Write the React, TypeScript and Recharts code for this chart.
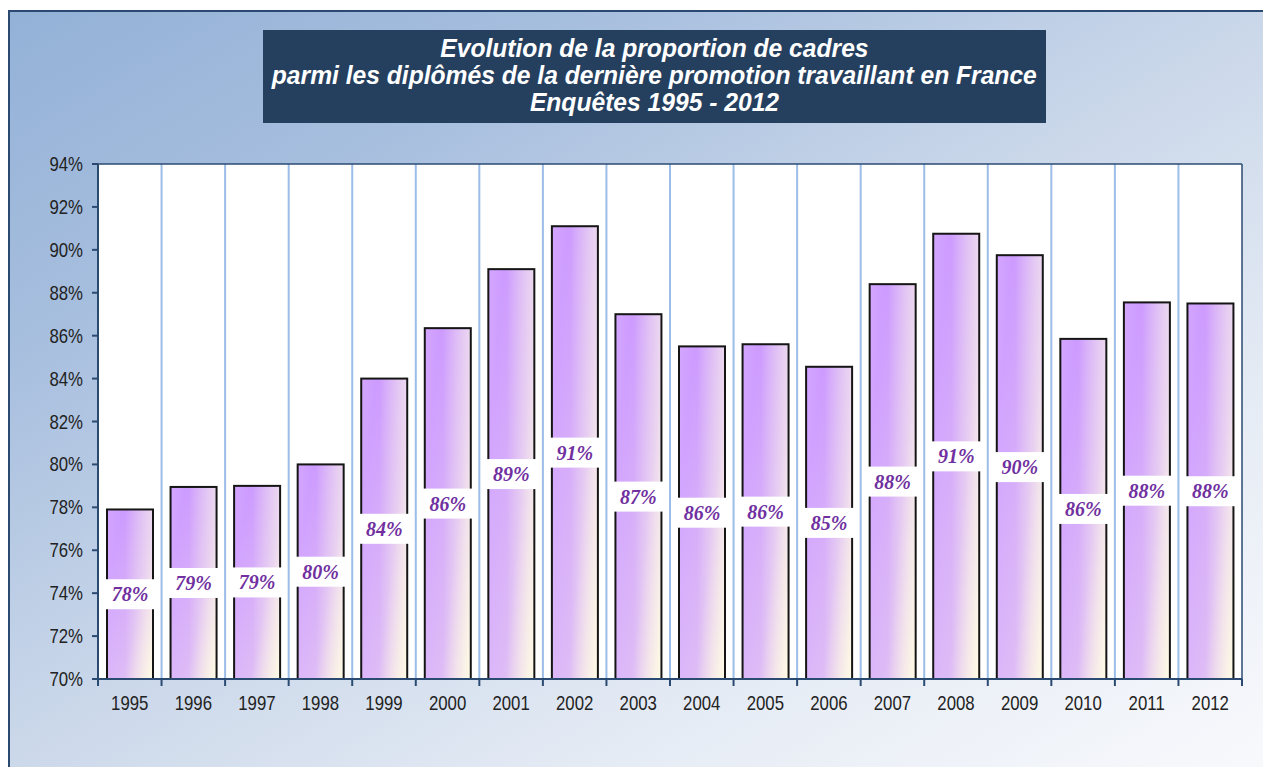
import { Bar, BarChart, CartesianGrid, LabelList, XAxis, YAxis } from "recharts";

const years = [
  "1995", "1996", "1997", "1998", "1999", "2000", "2001", "2002", "2003",
  "2004", "2005", "2006", "2007", "2008", "2009", "2010", "2011", "2012",
];
const shares = [
  77.9, 78.95, 79.0, 80.0, 84.0, 86.35, 89.1, 91.1, 87.0,
  85.5, 85.6, 84.55, 88.4, 90.75, 89.75, 85.85, 87.55, 87.5,
];
const yTicks = [70, 72, 74, 76, 78, 80, 82, 84, 86, 88, 90, 92, 94];
const titleLines = [
  "Evolution de la proportion de cadres",
  "parmi les diplômés de la dernière promotion travaillant en France",
  "Enquêtes 1995 - 2012",
];

const data = years.map((year, i) => ({ year, share: shares[i] }));

const CHART_W = 1253;
const CHART_H = 745;
const MARGIN = { top: 152, right: 21, left: 18, bottom: 38 };
const Y_W = 70;
const X_H = 40;
const PLOT_W = CHART_W - MARGIN.left - MARGIN.right - Y_W;
const CAT_W = PLOT_W / years.length;

const DARK = "#2b4a72";
const GRID = "#9bbde8";
const SANS = "'Liberation Sans', Arial, sans-serif";

function GradientBar(props: any) {
  const { x, y, width, height } = props;
  if (!height || height <= 0) return null;
  return (
    <g>
      <rect x={x} y={y} width={width} height={height} fill="url(#barBase)" />
      <rect x={x} y={y} width={width} height={height} fill="url(#barCream)" />
      <rect x={x} y={y} width={width} height={height} fill="none" stroke="#151515" strokeWidth={2} />
    </g>
  );
}

function ValueTag(props: any) {
  const x = Number(props.x);
  const y = Number(props.y);
  const width = Number(props.width);
  const height = Number(props.height);
  const cx = x + width / 2;
  const cy = y + height / 2;
  return (
    <g>
      <rect x={x - 3} y={cy - 15} width={width + 6} height={30} fill="#fff" />
      <text
        x={cx}
        y={cy + 7}
        textAnchor="middle"
        fontFamily="'Liberation Serif', 'Times New Roman', serif"
        fontStyle="italic"
        fontWeight="bold"
        fontSize={20}
        fill="#7030a0"
      >
        {Math.round(Number(props.value))}%
      </text>
    </g>
  );
}

function YearTick(props: any) {
  const { x, y, payload, index } = props;
  const left = x - CAT_W / 2;
  return (
    <g>
      <line x1={left} y1={y} x2={left} y2={y + 7} stroke={DARK} strokeWidth={2} />
      {index === years.length - 1 && (
        <line x1={x + CAT_W / 2} y1={y} x2={x + CAT_W / 2} y2={y + 7} stroke={DARK} strokeWidth={2} />
      )}
      <text
        transform={`translate(${x},${y + 31}) scale(0.84,1)`}
        textAnchor="middle"
        fontFamily={SANS}
        fontSize={20}
        fill="#222"
      >
        {payload.value}
      </text>
    </g>
  );
}

function ShareTick(props: any) {
  const { x, y, payload } = props;
  return (
    <text
      transform={`translate(${x},${y + 7}) scale(0.84,1)`}
      textAnchor="end"
      fontFamily={SANS}
      fontSize={20}
      fill="#222"
    >
      {payload.value}%
    </text>
  );
}

export default function App() {
  return (
    <div
      style={{
        position: "fixed",
        left: 8,
        top: 10,
        width: 1255,
        height: 757,
        overflow: "hidden",
        borderLeft: `2px solid ${DARK}`,
        borderTop: `2px solid ${DARK}`,
        background:
          "linear-gradient(150deg, #93b1d7 0%, #a9c0df 25%, #cbd8ea 50%, #e6ecf5 75%, #f8f9fc 100%)",
      }}
    >
      <div
        style={{
          position: "absolute",
          left: 253,
          top: 18,
          width: 783,
          height: 93,
          background: "#253f5f",
          color: "#fff",
          fontFamily: SANS,
          fontStyle: "italic",
          fontWeight: "bold",
          fontSize: 25,
          lineHeight: "27px",
          textAlign: "center",
          paddingTop: 5,
          boxSizing: "border-box",
        }}
      >
        {titleLines.map((line) => (
          <div key={line} style={{ whiteSpace: "nowrap" }}>
            <span style={{ display: "inline-block", transform: "scaleX(0.985)" }}>{line}</span>
          </div>
        ))}
      </div>
      <div style={{ position: "absolute", left: 0, top: 0 }}>
        <BarChart width={CHART_W} height={CHART_H} data={data} margin={MARGIN} barSize={46}>
          <defs>
            <linearGradient id="barBase" x1="0" y1="0" x2="1" y2="0">
              <stop offset="0%" stopColor="#d3a6ff" />
              <stop offset="40%" stopColor="#cc99ff" />
              <stop offset="100%" stopColor="#e4c9f4" />
            </linearGradient>
            <linearGradient id="barCream" x1="0.1" y1="0.3" x2="1" y2="1">
              <stop offset="0%" stopColor="#fffbe4" stopOpacity={0} />
              <stop offset="55%" stopColor="#fffbe4" stopOpacity={0.35} />
              <stop offset="100%" stopColor="#fffbe4" stopOpacity={1} />
            </linearGradient>
          </defs>
          <CartesianGrid
            fill="#fff"
            horizontal={false}
            stroke={GRID}
            strokeWidth={2}
            verticalCoordinatesGenerator={({ offset }: any) =>
              years.slice(1).map((_, i) => offset.left + ((i + 1) * offset.width) / years.length)
            }
          />
          <CartesianGrid
            stroke={DARK}
            strokeWidth={1.5}
            horizontalCoordinatesGenerator={({ offset }: any) => [offset.top]}
            verticalCoordinatesGenerator={({ offset }: any) => [offset.left + offset.width]}
          />
          <XAxis
            dataKey="year"
            height={X_H}
            axisLine={{ stroke: DARK, strokeWidth: 2 }}
            tickLine={false}
            tickSize={0}
            tickMargin={0}
            interval={0}
            tick={<YearTick />}
          />
          <YAxis
            width={Y_W}
            domain={[70, 94]}
            ticks={yTicks}
            interval={0}
            allowDataOverflow
            axisLine={{ stroke: DARK, strokeWidth: 2 }}
            tickLine={{ stroke: DARK, strokeWidth: 2 }}
            tickSize={6}
            tickMargin={9}
            tick={<ShareTick />}
          />
          <Bar dataKey="share" shape={<GradientBar />} isAnimationActive={false}>
            <LabelList dataKey="share" content={<ValueTag />} />
          </Bar>
        </BarChart>
      </div>
    </div>
  );
}
